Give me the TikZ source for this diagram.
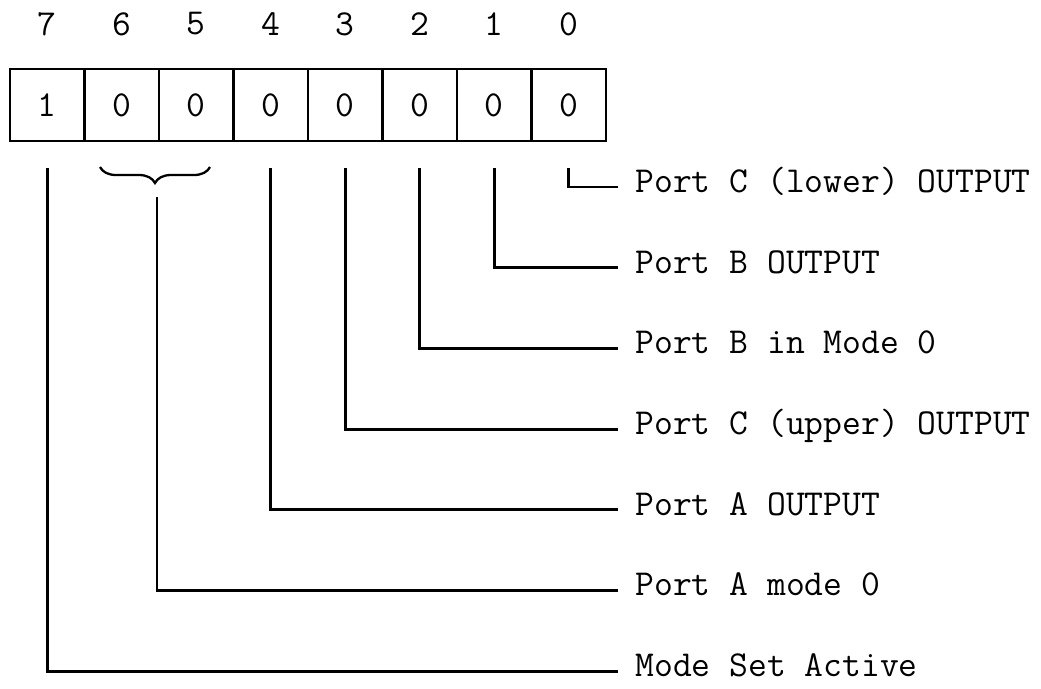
\documentclass[tikz,border=0pt]{standalone}
\usepackage{fontspec}
\usetikzlibrary{positioning,decorations.pathreplacing,calc}

\begin{document}
\begin{tikzpicture}[line width=1.6pt,font=\ttfamily\fontsize{20.8}{25}\selectfont,
  cell/.style={draw,minimum width=1.49cm,minimum height=1.44cm,inner sep=0pt},
  desc/.style={anchor=west,inner xsep=0.32cm,text height=0.62em,text depth=0pt}]
\useasboundingbox (0,0) rectangle (20.82,-13.76);
% register cells and bit numbers
\foreach \b/\v in {7/1,6/0,5/0,4/0,3/0,2/0,1/0,0/0}
  \node[cell] (c\b) at ({0.2+1.49*(7.5-\b)},-2.1) {\v};
\foreach \b in {0,...,7}
  \node (n\b) at (c\b |- 0,-0.48) {\b};
% descriptions
\foreach \k/\n/\t in {0/d0/Port C (lower) OUTPUT,1/d1/Port B OUTPUT,2/d2/Port B in Mode 0,
    3/d3/Port C (upper) OUTPUT,4/d4/Port A OUTPUT,5/d65/Port A mode 0,6/d7/Mode Set Active}
  \node[desc] (\n) at (12.36,{-3.74-1.614*\k}) {\t};
% leader lines
\foreach \b in {0,...,4}
  \draw ([yshift=-0.52cm]c\b.south) |- (d\b.west);
\draw ([yshift=-0.52cm]c7.south) |- (d7.west);
\coordinate (bl) at (2.0,-3.34);
\coordinate (br) at (4.2,-3.34);
\coordinate (tip) at (3.14,-3.94);
\draw[line width=1.3pt,decorate,decoration={brace,mirror,amplitude=0.32cm}] (bl) -- (br);
\draw (tip) |- (d65.west);
\end{tikzpicture}
\end{document}
